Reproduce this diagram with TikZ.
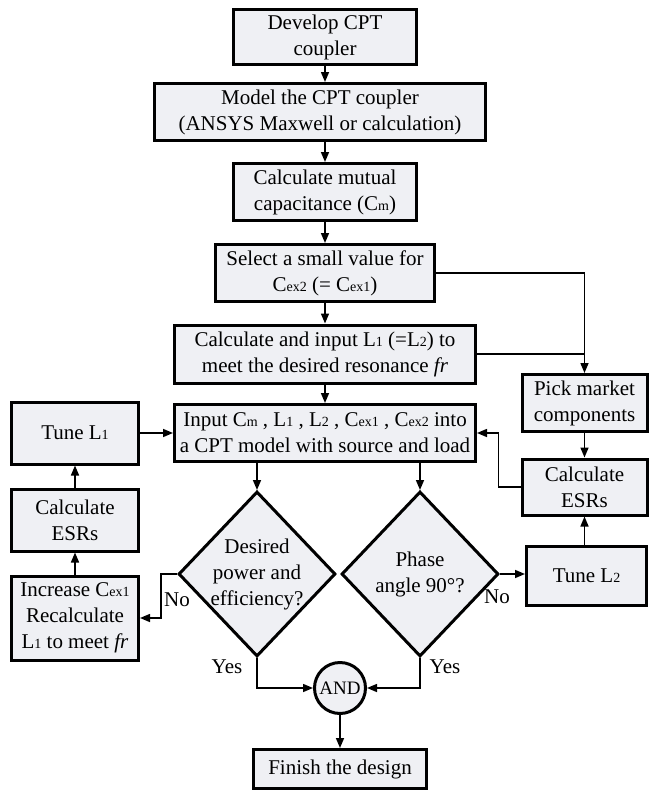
\documentclass[tikz,border=0pt]{standalone}
\usepackage{fontspec}
\setmainfont{Liberation Serif}
\usepackage{tikz}
\usetikzlibrary{arrows.meta,shapes.geometric}
\definecolor{boxfill}{RGB}{239,240,244}
\def\sbs#1{{\fontsize{14}{14}\selectfont #1}}
\tikzset{
	box/.style={draw, line width=3pt, fill=boxfill, align=center, inner sep=0pt, font=\fontsize{21}{26}\selectfont},
	decision/.style={diamond, draw, line width=3pt, fill=boxfill, align=center, inner sep=-10pt, minimum width=157pt, minimum height=165pt, font=\fontsize{21}{26}\selectfont},
	andnode/.style={circle, draw, line width=3pt, fill=boxfill, inner sep=0pt, minimum size=51pt, font=\fontsize{19}{22}\selectfont},
	lbl/.style={inner sep=0pt, font=\fontsize{21}{26}\selectfont},
	flow/.style={line width=1.5pt, -{Triangle[length=10pt,width=8pt]}},
	link/.style={line width=1.5pt}
}

\begin{document}
\begin{tikzpicture}[x=1pt, y=-1pt]
		%%%%% START %%%%%
		\useasboundingbox (0, 0) rectangle (648, 792);
		
		\node[box, minimum width=183pt, minimum height=55pt] (develop) at (325, 37) {Develop CPT\\coupler};
		\node[box, minimum width=331pt, minimum height=57pt] (model) at (320, 112) {Model the CPT coupler\\(ANSYS Maxwell or calculation)};
		\node[box, minimum width=183pt, minimum height=57pt] (mutual) at (325, 192) {Calculate mutual\\capacitance (C\sbs{m})};
		\node[box, minimum width=219pt, minimum height=57pt] (select) at (325, 273) {Select a small value for\\C\sbs{ex2} (= C\sbs{ex1})};
		\node[box, minimum width=301pt, minimum height=58pt] (calcin) at (325, 354) {Calculate and input L\sbs{1} (=L\sbs{2}) to\\meet the desired resonance \textit{fr}};
		\node[box, minimum width=301pt, minimum height=57pt] (input) at (325, 433) {Input C\sbs{m} , L\sbs{1} , L\sbs{2} , C\sbs{ex1} , C\sbs{ex2} into\\a CPT model with source and load};
		
		\node[box, minimum width=127pt, minimum height=62pt] (tune1) at (75, 433) {Tune L\sbs{1}};
		\node[box, minimum width=127pt, minimum height=62pt] (esr1) at (75, 520) {Calculate\\ESRs};
		\node[box, minimum width=127pt, minimum height=84pt] (incr) at (75, 618) {Increase C\sbs{ex1}\\Recalculate\\L\sbs{1} to meet \textit{fr}};
		
		\node[box, minimum width=125pt, minimum height=57pt] (pick) at (584.5, 403) {Pick market\\components};
		\node[box, minimum width=125pt, minimum height=56pt] (esr2) at (584.5, 487) {Calculate\\ESRs};
		\node[box, minimum width=120pt, minimum height=59pt] (tune2) at (586.5, 576) {Tune L\sbs{2}};
		
		\node[decision] (power) at (257, 574) {Desired\\power and\\efficiency?};
		\node[decision] (phase) at (420, 574) {Phase\\angle 90°?};
		\node[andnode] (and) at (340, 688) {AND};
		\node[box, minimum width=173pt, minimum height=39pt] (finish) at (340, 769) {Finish the design};
		
		\node[lbl] (no1) at (177, 600) {No};
		\node[lbl] (no2) at (497, 597) {No};
		\node[lbl] (yes1) at (227, 667) {Yes};
		\node[lbl] (yes2) at (445, 667) {Yes};
		
		% main column
		\draw[flow] (develop.south) -- (develop.south |- model.north);
		\draw[flow] (mutual.north |- model.south) -- (mutual.north);
		\draw[flow] (mutual.south) -- (select.north);
		\draw[flow] (select.south) -- (calcin.north);
		\draw[flow] (calcin.south) -- (input.north);
		\draw[flow] (power.north |- input.south) -- (power.north);
		\draw[flow] (phase.north |- input.south) -- (phase.north);
		\draw[flow] (power.south) |- (and.west);
		\draw[flow] (phase.south) |- (and.east);
		\draw[flow] (and.south) -- (finish.north);
		
		% right loop
		\draw[flow] (select.east) -| (pick.north);
		\draw[link] (calcin.east) -- (calcin.east -| pick.north);
		\draw[flow] (pick.south) -- (esr2.north);
		\draw[flow] (esr2.west) -- ++(-22, 0) |- (input.east);
		\draw[flow] (tune2.north -| esr2.south) -- (esr2.south);
		\draw[flow] (phase.east) -- (phase.east -| tune2.west);
		
		% left loop
		\draw[flow] (power.west) -- ++(-16, 0) |- (incr.east);
		\draw[flow] (incr.north) -- (esr1.south);
		\draw[flow] (esr1.north) -- (tune1.south);
		\draw[flow] (tune1.east) -- (tune1.east -| input.west);
		%%%%% END %%%%%
	\end{tikzpicture}
\end{document}
